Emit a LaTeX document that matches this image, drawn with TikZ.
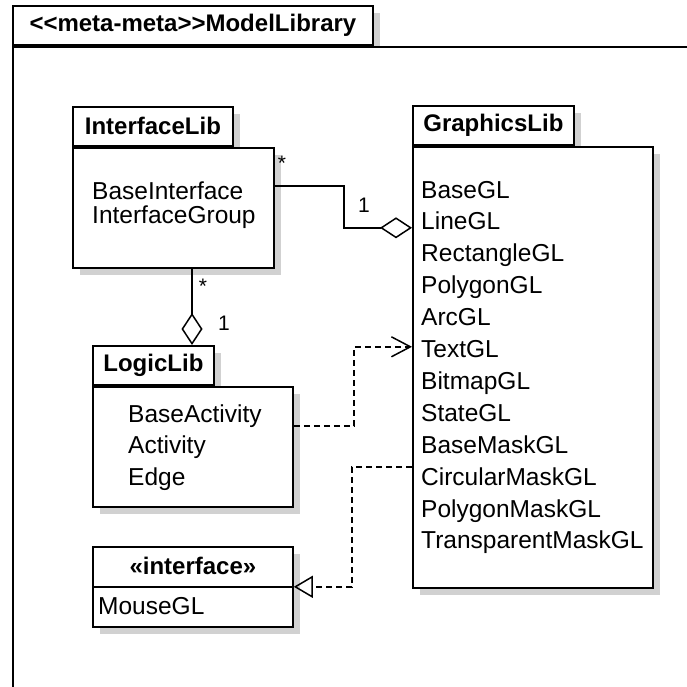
\documentclass[tikz,border=0pt]{standalone}
\usepackage{fontspec}
\setmainfont{Liberation Sans}
\usepackage{tikz}
\usetikzlibrary{arrows.meta,positioning,shadows}
\tikzset{
    %Define shadow for boxes
    boxshadow/.style={
           drop shadow={fill=black!18, opacity=1, shadow xshift=7pt, shadow yshift=-7pt}},
    %Define style for title tabs
    tab/.style={
           rectangle,
           draw=black, line width=1.8pt,
           fill=white,
           inner sep=0pt,
           minimum height=39pt,
           font=\fontsize{24}{28}\selectfont\bfseries,
           text centered},
    %Define style for box bodies
    body/.style={
           rectangle,
           draw=black, line width=1.8pt,
           fill=white,
           inner sep=0pt,
           anchor=north west},
    item/.style={
           inner sep=0pt,
           anchor=base west,
           font=\fontsize{24.5}{28}\selectfont},
    mult/.style={
           inner sep=0pt,
           font=\fontsize{21}{24}\selectfont},
    % Define connector styles
    agg/.style={
           -{Diamond[open, length=32pt, width=21pt]},
           line width=1.5pt},
    dep/.style={
           -{Straight Barb[length=19pt, width=20pt]},
           line width=1.5pt,
           dash pattern=on 6pt off 4pt},
    real/.style={
           -{Triangle[open, length=19pt, width=22pt]},
           line width=1.5pt,
           dash pattern=on 6pt off 4pt}
}
\begin{document}
\begin{tikzpicture}[x=1pt,y=-1pt]
\useasboundingbox[fill=white] (0,0) rectangle (686,687);
% outer package
\node[tab, boxshadow, minimum width=360pt, anchor=north west](pkgtab) at (12,5){<\kern0pt<meta-meta>\kern0pt>ModelLibrary};
\node[body, minimum width=720pt, minimum height=642pt, below=0pt of pkgtab.south west, anchor=north west](pkg){};
% libraries
\node[tab, boxshadow, minimum width=160pt, anchor=north west](ilibtab) at (72,106){InterfaceLib};
\node[body, boxshadow, minimum width=201pt, minimum height=120pt, below=0pt of ilibtab.south west, anchor=north west](ilib){};
\node[item](i0) at (92,199){BaseInterface};
\node[item](i1) at (92,223){InterfaceGroup};
\node[tab, boxshadow, minimum width=161pt, anchor=north west](glibtab) at (412,105){GraphicsLib};
\node[body, boxshadow, minimum width=240pt, minimum height=441pt, below=0pt of glibtab.south west, anchor=north west](glib){};
\foreach \name [count=\i from 0] in {BaseGL,LineGL,RectangleGL,PolygonGL,ArcGL,TextGL,BitmapGL,StateGL,BaseMaskGL,CircularMaskGL,PolygonMaskGL,TransparentMaskGL}
    \node[item](g\i) at (421,198+31.9*\i){\name};
\node[tab, boxshadow, minimum width=121pt, anchor=north west](llibtab) at (92,345){LogicLib};
\node[body, boxshadow, minimum width=200pt, minimum height=120pt, below=0pt of llibtab.south west, anchor=north west](llib){};
\node[item](l0) at (128,422){BaseActivity};
\node[item](l1) at (128,453){Activity};
\node[item](l2) at (128,485){Edge};
% interface
\node[body, boxshadow, minimum width=200pt, minimum height=80pt](mouse) at (92,546){};
\node[tab, draw=none, fill=none, minimum width=200pt, anchor=north west](mousehead) at (mouse.north west){«interface»};
\draw[line width=1.5pt] (mousehead.south west) -- (mousehead.south east);
\node[item](m0) at (98,614){MouseGL};
% connectors
\draw[agg] ([yshift=-39pt]ilib.north east) -- ++(69,0) |- ([yshift=-82pt]glib.north west);
\draw[agg] ([xshift=120pt]ilib.south west) -- ([xshift=100pt]llibtab.north west);
\draw[dep] ([yshift=-40pt]llib.north east) -- ++(60,0) |- ([yshift=-201pt]glib.north west);
\draw[real] ([yshift=-321pt]glib.north west) -- ++(-60,0) |- (mousehead.south east);
% multiplicities
\node[mult](ms1) at (282,163){*};
\node[mult](mo1) at (364,205){1};
\node[mult](ms2) at (203,286){*};
\node[mult](mo2) at (224,323){1};
\end{tikzpicture}
\end{document}
